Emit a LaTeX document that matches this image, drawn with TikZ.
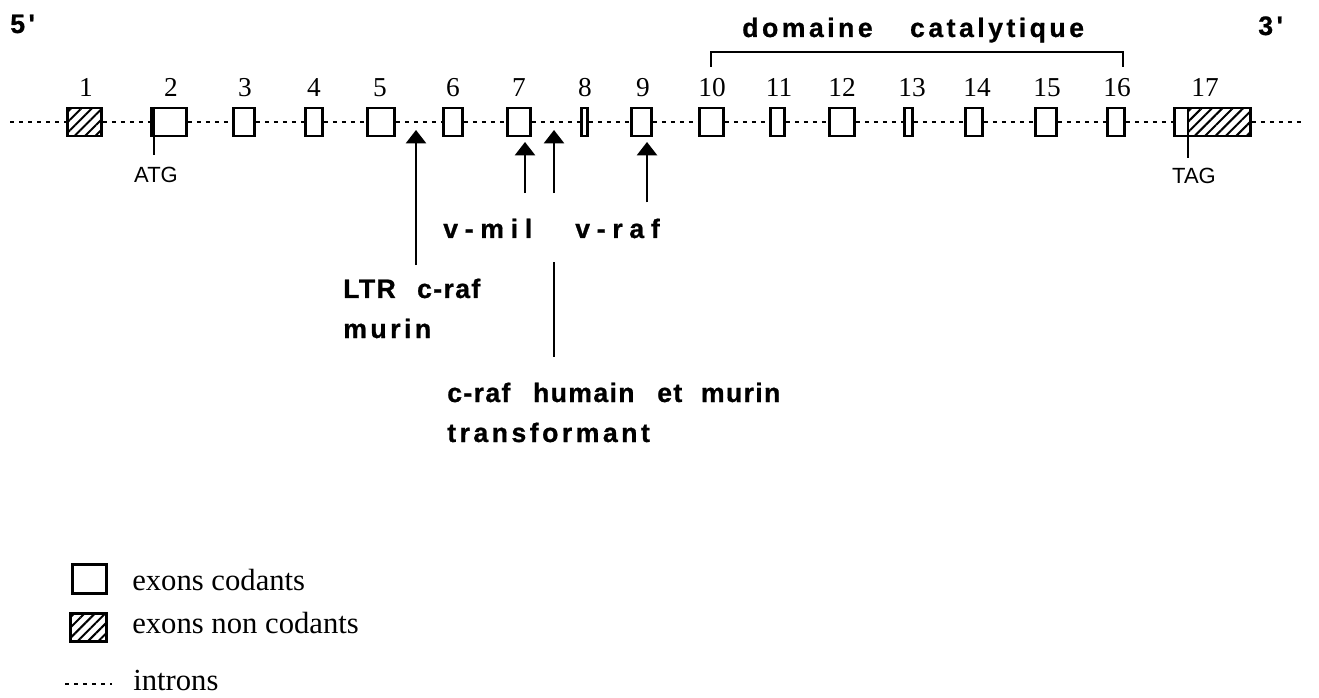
\documentclass[tikz,border=0pt]{standalone}
\usepackage{fontspec}
\setmainfont{Liberation Serif}
\newfontfamily\labA[LetterSpace=5,FakeBold=0.8]{Liberation Sans}
\newfontfamily\labB[LetterSpace=13,FakeBold=0.8]{Liberation Sans}
\newfontfamily\labW[LetterSpace=25,FakeBold=0.8]{Liberation Sans}
\newfontfamily\smallsans{Liberation Sans}
\usetikzlibrary{arrows.meta,patterns.meta,calc}
\begin{document}
\begin{tikzpicture}[x=0.75pt,y=-0.75pt,
  exonbox/.style={draw,line width=2.2pt,inner sep=0,minimum height=21pt},
  hatch/.style={pattern={Lines[angle=45,distance=5.5pt,line width=1.5pt]}},
  intron/.style={line width=2pt,dash pattern=on 3pt off 3.75pt},
  num/.style={font=\fontsize{20.5}{20.5}\selectfont,anchor=base,inner sep=0},
  lblA/.style={font=\fontsize{20}{24}\selectfont\bfseries\labA,anchor=base west,inner sep=0},
  lbl/.style={font=\fontsize{20}{24}\selectfont\bfseries\labB,anchor=base west,inner sep=0},
  lblw/.style={font=\fontsize{20}{24}\selectfont\bfseries\labW,anchor=base west,inner sep=0},
  codon/.style={font=\fontsize{16.5}{16.5}\selectfont\smallsans,anchor=base,inner sep=0},
  legtext/.style={font=\fontsize{23}{23}\selectfont,anchor=base west,inner sep=0},
  arr/.style={line width=1.8pt,-{Triangle[width=15pt,length=10pt]}},
  plain/.style={line width=1.8pt}]
\useasboundingbox (0,0) rectangle (1319,698);

% hatched part of exon 17 (drawn first, below outline)
\fill[hatch] (1188,108) rectangle (1251,136);

% exons
\foreach \n/\c/\w in {1/84.5/25.5, 2/169/26.25, 3/244/15.75, 4/314/12.75, 5/381/20.25,
  6/453/14.25, 7/519/17.25, 8/584.5/4.5, 9/641.5/15, 10/711.5/18, 11/777.5/10.5,
  12/842/18.75, 13/908.5/6, 14/974/12.75, 15/1046/15.75, 16/1116/12.75, 17/1212.5/57}
  \node[exonbox,minimum width=\w pt] (e\n) at (\c,122) {};
\fill[hatch] ($(e1.north west)+(1.5,1.5)$) rectangle ($(e1.south east)+(-1.5,-1.5)$);
\node[exonbox,minimum width=25.5pt] at (e1) {};

% introns
\coordinate (L) at (10,122);
\coordinate (R) at (1305,122);
\draw[intron] (L) -- (e1.west);
\foreach \i [evaluate=\i as \j using int(\i+1)] in {1,...,16}
  \draw[intron] (e\i.east) -- (e\j.west);
\draw[intron] (e17.east) -- (R);

% exon numbers
\foreach \n/\x in {1/86, 2/171, 3/245, 4/314, 5/380, 6/453, 7/519, 8/585, 9/643,
  10/712, 11/779, 12/842, 13/912, 14/977, 15/1047, 16/1117, 17/1205}
  \node[num] (n\n) at (\x,97) {\n};

% ends
\node[lbl] (five) at (10,33) {5'};
\node[lbl] (three) at (1258,35) {3'};

% domaine catalytique
\node[lbl] (dom) at (742,37) {domaine\hspace{28pt}catalytique};
\coordinate (b1) at (711,67);
\coordinate (b2) at (1123,67);
\draw[plain] (b1) -- ++(0,-15) -| (b2);

% ATG / TAG
\node[codon] (atg) at (156,183) {ATG};
\node[codon] (tag) at (1194,184) {TAG};
\coordinate (atgtop) at (154,107);
\coordinate (tagtop) at (1188,107);
\draw[plain] (atgtop) -- ([yshift=9pt]atg.north -| atgtop);
\draw[plain] (tagtop) -- ([yshift=8pt]tag.north -| tagtop);

% labels
\node[lblw] (vmil) at (443,238) {v-mil};
\node[lblw] (vraf) at (575,238) {v-raf};
\node[lblA] (ltr) at (343,298) {LTR\hspace{16pt}c-raf};
\node[lbl] (murin) at (343,338) {murin};
\node[lblA] (craf) at (447,402) {c-raf\hspace{17pt}humain\hspace{17pt}et\hspace{14pt}murin};
\node[lbl] (transf) at (447,442) {transformant};

% arrows
\coordinate (t1) at (416,130);
\coordinate (t2) at (525,142);
\coordinate (t3) at (554,130);
\coordinate (t4) at (647,142);
\draw[arr] ([yshift=10pt]ltr.north -| t1) -- (t1);
\draw[arr] ([yshift=19pt]vmil.north -| t2) -- (t2);
\draw[arr] ([yshift=19pt]vmil.north -| t3) -- (t3);
\draw[arr] ([yshift=12pt]vraf.north -| t4) -- (t4);
\draw[plain] ([yshift=-18pt]vmil.south -| t3) -- ([yshift=19pt]craf.north -| t3);

% legend
\node[exonbox,minimum width=25.5pt,minimum height=21.75pt] (lc) at (89.5,579) {};
\node[legtext] (lct) at (132,590) {exons codants};
\fill[hatch] (70.5,613.5) rectangle (106.5,641.5);
\node[exonbox,minimum width=27pt,minimum height=21pt] (lnc) at (88.5,627.5) {};
\node[legtext] (lnct) at (132,633) {exons non codants};
\coordinate (i1) at (65,684);
\coordinate (i2) at (112,684);
\draw[intron] (i1) -- (i2);
\node[legtext] (lit) at (133,690) {introns};
\end{tikzpicture}
\end{document}
